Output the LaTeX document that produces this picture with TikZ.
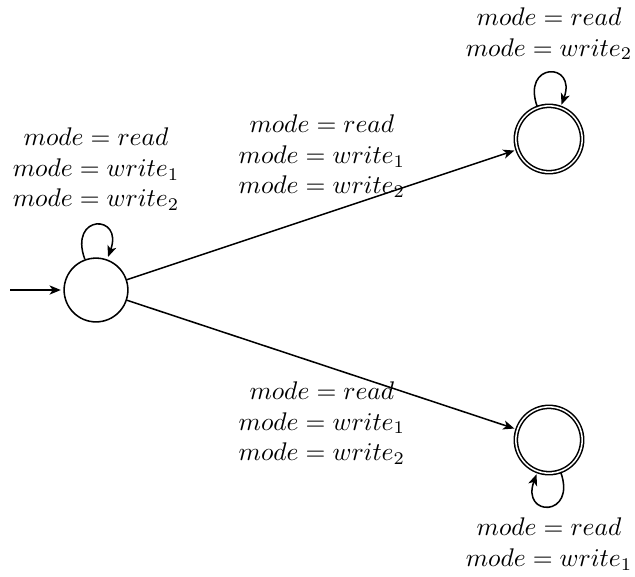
\documentclass[tikz,border=0pt]{standalone}
\usetikzlibrary{arrows.meta}
\begin{document}
\begin{tikzpicture}[x=0.392pt,y=-0.392pt,semithick,
  >={Stealth[length=4.4pt,width=3.6pt,inset=1.2pt]},shorten >=1pt,
  plainstate/.style={circle,draw,minimum size=25pt,inner sep=0pt},
  finalstate/.style={plainstate,double,minimum size=26pt},
  lbl/.style={align=center},
  loopup/.style={loop,out=110,in=70,distance=19pt},
  loopdown/.style={loop,out=-70,in=-110,distance=19pt}]
  \useasboundingbox (0,0) rectangle (635,576);

  % states
  \node[plainstate] (q0) at (96,290) {};
  \node[finalstate] (q1) at (549,139) {};
  \node[finalstate] (q2) at (549,440) {};

  % initial arrow
  \coordinate (init) at (10,290);
  \draw[->] (init) -- (q0);

  % transitions between states
  \draw[->] (q0) -- node[lbl,above=3pt]
    {$mode = read$\\$mode = write_1$\\$mode = write_2$} (q1);
  \draw[->] (q0) -- node[lbl,below=3pt]
    {$mode = read$\\$mode = write_1$\\$mode = write_2$} (q2);

  % self loops
  \path[->] (q0) edge[loopup] node[lbl,above=2pt]
    {$mode = read$\\$mode = write_1$\\$mode = write_2$} (q0);
  \path[->] (q1) edge[loopup] node[lbl,above=1.5pt]
    {$mode = read$\\$mode = write_2$} (q1);
  \path[->] (q2) edge[loopdown] node[lbl,below=1pt]
    {$mode = read$\\$mode = write_1$} (q2);
\end{tikzpicture}
\end{document}
